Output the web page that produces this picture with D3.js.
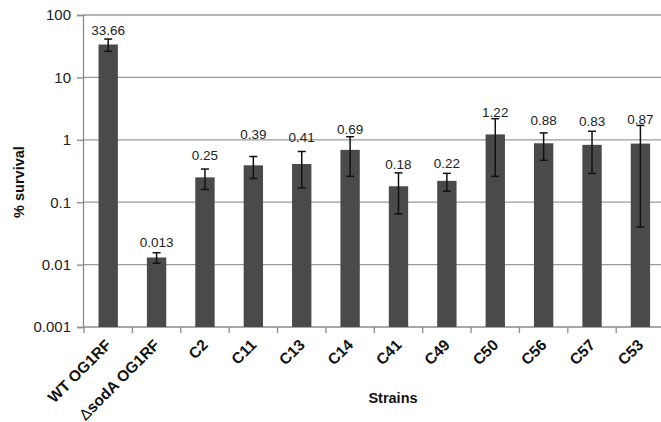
<!DOCTYPE html>
<html>
<head>
<meta charset="utf-8">
<script src="https://cdn.jsdelivr.net/npm/d3@7"></script>
<style>
  body { margin: 0; background: #fff; }
  text { font-family: "Liberation Sans", Arial, sans-serif; }
</style>
</head>
<body>
<script>
const strains = ['WT OG1RF', '\u0394sodA OG1RF', 'C2', 'C11', 'C13', 'C14', 'C41', 'C49', 'C50', 'C56', 'C57', 'C53'];
const survival = [33.66, 0.013, 0.25, 0.39, 0.41, 0.69, 0.18, 0.22, 1.22, 0.88, 0.83, 0.87];
const errors = [7.5, 0.0025, 0.09, 0.15, 0.24, 0.43, 0.115, 0.07, 0.96, 0.41, 0.54, 0.83];
const labels = ['33.66', '0.013', '0.25', '0.39', '0.41', '0.69', '0.18', '0.22', '1.22', '0.88', '0.83', '0.87'];
const yTicks = [0.001, 0.01, 0.1, 1, 10, 100];

// labels were nudged by hand in the original, keep the gap above each error cap
const labelGap = [9, 10, 14, 22, 14, 7, 9, 10, 6, 13, 10, 6];

const width = 661, height = 422;
const plot = { left: 84, right: 664.6, top: 15, bottom: 327 };

const x = d3.scaleBand()
  .domain(strains)
  .range([plot.left, plot.right])
  .paddingInner(0.6)
  .paddingOuter(0.3);

const y = d3.scaleLog()
  .domain([0.001, 100])
  .range([plot.bottom, plot.top]);

const svg = d3.select('body').append('svg')
  .attr('width', width)
  .attr('height', height);

// gridlines
svg.append('g').selectAll('line').data(yTicks.slice(1))
  .enter().append('line')
  .attr('x1', plot.left - 1).attr('x2', plot.right)
  .attr('y1', d => y(d)).attr('y2', d => y(d))
  .attr('stroke', '#9a9a9a').attr('stroke-width', 1.3);

// y axis
const yAxis = d3.axisLeft(y)
  .tickValues(yTicks)
  .tickFormat(d => String(d))
  .tickSize(6)
  .tickPadding(6);

const gy = svg.append('g')
  .attr('transform', `translate(${plot.left - 1},0)`)
  .call(yAxis);
gy.select('.domain').attr('stroke', '#8a8a8a').attr('stroke-width', 1.3);
gy.selectAll('.tick line').attr('stroke', '#8a8a8a').attr('stroke-width', 1.3);
gy.selectAll('.tick text')
  .style('font-size', '15px')
  .style('fill', '#222')
  .style('font-family', '"Liberation Sans", Arial, sans-serif');

// x axis line and ticks between categories
svg.append('line')
  .attr('x1', plot.left - 1).attr('x2', plot.right)
  .attr('y1', plot.bottom).attr('y2', plot.bottom)
  .attr('stroke', '#8a8a8a').attr('stroke-width', 1.3);

const bounds = strains.map(s => x(s) - x.step() * x.paddingInner() / 2 - (s === strains[0] ? x.step() * (x.paddingOuter() - x.paddingInner() / 2) : 0));
svg.append('g').selectAll('line').data(bounds)
  .enter().append('line')
  .attr('x1', d => d).attr('x2', d => d)
  .attr('y1', plot.bottom).attr('y2', plot.bottom + 6)
  .attr('stroke', '#8a8a8a').attr('stroke-width', 1.3);

const data = strains.map((s, i) => ({ s, v: survival[i], e: errors[i], lab: labels[i], gap: labelGap[i] }));

// bars
svg.append('g').selectAll('rect').data(data)
  .enter().append('rect')
  .attr('x', d => x(d.s))
  .attr('width', x.bandwidth())
  .attr('y', d => y(d.v))
  .attr('height', d => plot.bottom - y(d.v))
  .attr('fill', '#4a4a4a');

// error bars
const eb = svg.append('g').selectAll('g').data(data)
  .enter().append('g')
  .attr('stroke', '#111')
  .attr('stroke-width', 1.5);
const cx = d => x(d.s) + x.bandwidth() / 2;
eb.append('line')
  .attr('x1', cx).attr('x2', cx)
  .attr('y1', d => y(d.v + d.e)).attr('y2', d => y(d.v - d.e));
eb.append('line')
  .attr('x1', d => cx(d) - 4).attr('x2', d => cx(d) + 4)
  .attr('y1', d => y(d.v + d.e)).attr('y2', d => y(d.v + d.e));
eb.append('line')
  .attr('x1', d => cx(d) - 4).attr('x2', d => cx(d) + 4)
  .attr('y1', d => y(d.v - d.e)).attr('y2', d => y(d.v - d.e));

// value labels
svg.append('g').selectAll('text').data(data)
  .enter().append('text')
  .attr('x', cx)
  .attr('y', d => y(d.v + d.e) - d.gap)
  .attr('dy', '0.35em')
  .style('text-anchor', 'middle')
  .style('font-size', '13.5px')
  .style('fill', '#222')
  .text(d => d.lab);

// category labels
const cat = svg.append('g').selectAll('text').data(data)
  .enter().append('text')
  .attr('transform', d => `translate(${cx(d) + 4},${plot.bottom + 19}) rotate(-45)`)
  .style('text-anchor', 'end')
  .style('font-size', '15.5px')
  .style('font-weight', 'bold')
  .style('fill', '#111');
cat.each(function (d) {
  const t = d3.select(this);
  if (d.s.startsWith('\u0394')) {
    t.append('tspan').style('font-weight', 'normal').text('\u0394');
    t.append('tspan').text(d.s.slice(1));
  } else {
    t.text(d.s);
  }
});

// axis titles
svg.append('text')
  .attr('x', 393)
  .attr('y', 398)
  .attr('dy', '0.35em')
  .style('text-anchor', 'middle')
  .style('font-size', '14.5px')
  .style('font-weight', 'bold')
  .style('fill', '#111')
  .text('Strains');

svg.append('text')
  .attr('transform', 'translate(19,182) rotate(-90)')
  .attr('dy', '0.35em')
  .style('text-anchor', 'middle')
  .style('font-size', '14.5px')
  .style('font-weight', 'bold')
  .style('fill', '#111')
  .text('% survival');
</script>
</body>
</html>
